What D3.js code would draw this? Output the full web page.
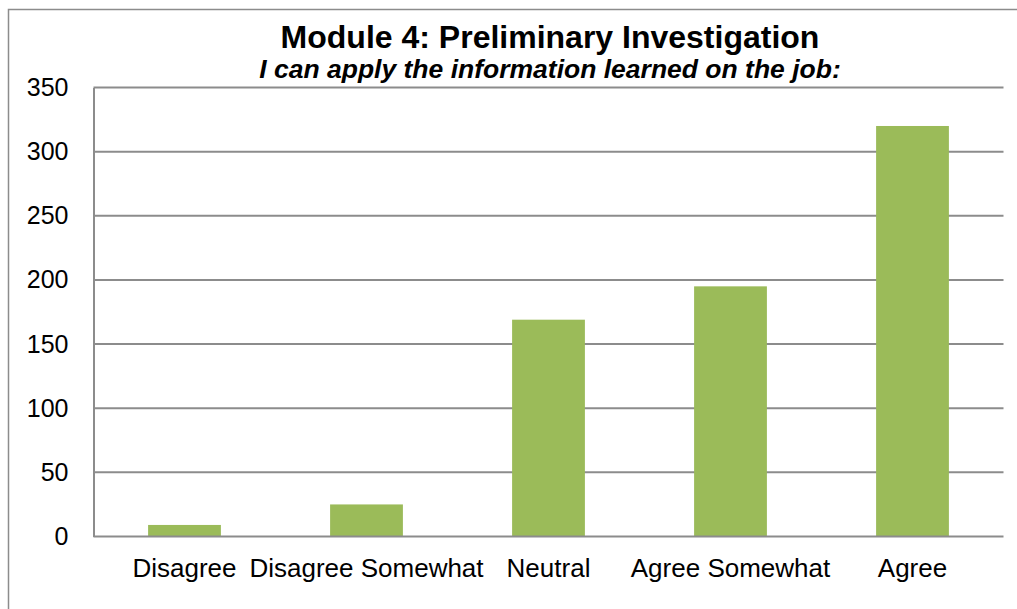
<!DOCTYPE html>
<html>
<head>
<meta charset="utf-8">
<script src="https://cdn.jsdelivr.net/npm/d3@7"></script>
<style>
  body { margin: 0; background: #fff; }
  text { font-family: "Liberation Sans", Arial, sans-serif; fill: #000; }
</style>
</head>
<body>
<script>
const categories = ["Disagree", "Disagree Somewhat", "Neutral", "Agree Somewhat", "Agree"];
const counts = [9, 25, 169, 195, 320];
const yTicks = [0, 50, 100, 150, 200, 250, 300, 350];
const title = "Module 4: Preliminary Investigation";
const subtitle = "I can apply the information learned on the job:";

const w = 1017;
const h = 609;
const plotLeft = 93.5, plotRight = 1003.5, plotTop = 87.5, plotBottom = 536.5;

const svg = d3.select("body")
  .append("svg")
  .attr("width", w)
  .attr("height", h);

// outer frame (runs off right and bottom edges)
svg.append("rect")
  .attr("x", 8.5).attr("y", 9.5)
  .attr("width", 1020).attr("height", 620)
  .attr("fill", "none")
  .attr("stroke", "#8c8c8c")
  .attr("stroke-width", 1.5);

const xScale = d3.scaleBand()
  .domain(categories)
  .range([plotLeft, plotRight])
  .paddingInner(0.6)
  .paddingOuter(0.3);

const yScale = d3.scaleLinear()
  .domain([0, 350])
  .range([plotBottom, plotTop]);

// gridlines
svg.append("g")
  .selectAll("line")
  .data(yTicks.filter(d => d > 0))
  .enter()
  .append("line")
  .attr("x1", plotLeft).attr("x2", plotRight)
  .attr("y1", d => yScale(d)).attr("y2", d => yScale(d))
  .attr("stroke", "#8c8c8c")
  .attr("stroke-width", 2);

// bars
svg.selectAll("rect.bar")
  .data(counts)
  .enter()
  .append("rect")
  .attr("class", "bar")
  .attr("x", (d, i) => xScale(categories[i]))
  .attr("y", d => yScale(d))
  .attr("width", xScale.bandwidth())
  .attr("height", d => plotBottom - yScale(d))
  .attr("fill", "#9bbb59");

// y axis
const yAxis = d3.axisLeft(yScale).tickValues(yTicks).tickSize(0).tickPadding(25);
const gy = svg.append("g")
  .attr("transform", "translate(" + plotLeft + ",0)")
  .call(yAxis);
gy.select(".domain").attr("stroke", "#8c8c8c").attr("stroke-width", 2);
gy.selectAll("text").style("font-size", "25px").attr("font-family", null);

// x axis
const xAxis = d3.axisBottom(xScale).tickSize(0).tickPadding(22);
const gx = svg.append("g")
  .attr("transform", "translate(0," + plotBottom + ")")
  .call(xAxis);
gx.select(".domain").attr("d", "M" + plotLeft + ",0H" + plotRight)
  .attr("stroke", "#8c8c8c").attr("stroke-width", 2);
gx.selectAll("text").style("font-size", "26px").attr("font-family", null);

// titles
svg.append("text")
  .attr("x", 550).attr("y", 48)
  .style("text-anchor", "middle")
  .style("font-size", "32px")
  .style("font-weight", "bold")
  .text(title);

svg.append("text")
  .attr("x", 550).attr("y", 78)
  .style("text-anchor", "middle")
  .style("font-size", "26.5px")
  .style("font-weight", "bold")
  .style("font-style", "italic")
  .text(subtitle);
</script>
</body>
</html>
